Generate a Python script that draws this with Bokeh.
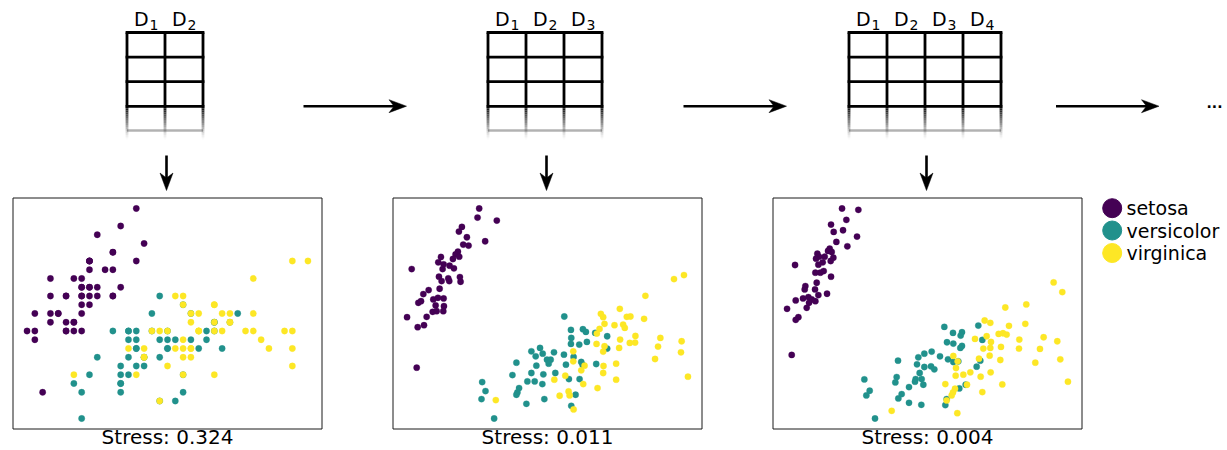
import numpy as np
from bokeh.plotting import figure
from bokeh.models import Range1d, ColumnDataSource
from bokeh.core.properties import value
from bokeh.embed import file_html
from bokeh.resources import INLINE

# ---------------- data ----------------
species = ["setosa", "versicolor", "virginica"]
colors = ["#440154", "#21918c", "#fde725"]
stress_values = ["0.324", "0.011", "0.004"]
n_dims = [2, 3, 4]
dim_prefix = "D"

# Panel 1: the two raw dimensions D1 (sepal length), D2 (sepal width)
p1_setosa_x = [5.1,4.9,4.7,4.6,5.0,5.4,4.6,5.0,4.4,4.9,5.4,4.8,4.8,4.3,5.8,5.7,5.4,5.1,5.7,5.1,5.4,5.1,4.6,5.1,4.8,5.0,5.0,5.2,5.2,4.7,4.8,5.4,5.2,5.5,4.9,5.0,5.5,4.9,4.4,5.1,5.0,4.5,4.4,5.0,5.1,4.8,5.1,4.6,5.3,5.0]
p1_setosa_y = [3.5,3.0,3.2,3.1,3.6,3.9,3.4,3.4,2.9,3.1,3.7,3.4,3.0,3.0,4.0,4.4,3.9,3.5,3.8,3.8,3.4,3.7,3.6,3.3,3.4,3.0,3.4,3.5,3.4,3.2,3.1,3.4,4.1,4.2,3.1,3.2,3.5,3.6,3.0,3.4,3.5,2.3,3.2,3.5,3.8,3.0,3.8,3.2,3.7,3.3]
p1_versicolor_x = [7.0,6.4,6.9,5.5,6.5,5.7,6.3,4.9,6.6,5.2,5.0,5.9,6.0,6.1,5.6,6.7,5.6,5.8,6.2,5.6,5.9,6.1,6.3,6.1,6.4,6.6,6.8,6.7,6.0,5.7,5.5,5.5,5.8,6.0,5.4,6.0,6.7,6.3,5.6,5.5,5.5,6.1,5.8,5.0,5.6,5.7,5.7,6.2,5.1,5.7]
p1_versicolor_y = [3.2,3.2,3.1,2.3,2.8,2.8,3.3,2.4,2.9,2.7,2.0,3.0,2.2,2.9,2.9,3.1,3.0,2.7,2.2,2.5,3.2,2.8,2.5,2.8,2.9,3.0,2.8,3.0,2.9,2.6,2.4,2.4,2.7,2.7,3.0,3.4,3.1,2.3,3.0,2.5,2.6,3.0,2.6,2.3,2.7,3.0,2.9,2.9,2.5,2.8]
p1_virginica_x = [6.3,5.8,7.1,6.3,6.5,7.6,4.9,7.3,6.7,7.2,6.5,6.4,6.8,5.7,5.8,6.4,6.5,7.7,7.7,6.0,6.9,5.6,7.7,6.3,6.7,7.2,6.2,6.1,6.4,7.2,7.4,7.9,6.4,6.3,6.1,7.7,6.3,6.4,6.0,6.9,6.7,6.9,5.8,6.8,6.7,6.7,6.3,6.5,6.2,5.9]
p1_virginica_y = [3.3,2.7,3.0,2.9,3.0,3.0,2.5,2.9,2.5,3.6,3.2,2.7,3.0,2.5,2.8,3.2,3.0,3.8,2.6,2.2,3.2,2.8,2.8,2.7,3.3,3.2,2.8,3.0,2.8,3.0,2.8,3.8,2.8,2.8,2.6,3.0,3.4,3.1,3.0,3.1,3.1,3.1,2.7,3.2,3.3,3.0,2.5,3.0,3.4,3.0]

# Panel 2: MDS embedding of D1..D3
p2_setosa_x = [29.3,28.8,34.6,24.1,23.2,25.6,31.1,24.5,26.1,22.9,22.2,17.8,21.4,23.3,17.0,18.6,20.4,18.3,21.7,9.0,17.2,20.0,23.5,18.0,20.3,23.7,14.1,17.4,12.5,15.5,18.6,16.9,11.0,11.8,16.2,18.7,15.3,16.5,18.5,7.6,13.5,10.8,12.7,10.5]
p2_setosa_y = [67.7,65.0,64.1,62.2,60.8,59.1,57.9,56.9,56.6,54.8,54.0,53.2,52.6,53.3,51.6,51.0,50.6,49.6,49.8,49.6,47.3,46.8,47.2,46.0,46.0,45.8,43.3,43.7,42.1,40.5,40.8,41.0,39.5,40.0,38.7,38.5,36.8,37.0,37.0,35.2,35.3,32.2,32.8,20.1]
p2_versicolor_x = [54.9,56.9,60.5,61.4,57.0,64.2,67.8,61.7,59.4,56.9,67.8,45.0,47.6,46.3,48.4,51.8,49.7,50.8,54.8,50.2,57.7,40.5,46.5,55.4,60.0,60.4,64.5,45.0,48.6,39.3,52.2,56.3,59.5,43.8,46.0,48.3,30.2,41.3,31.2,40.8,40.5,58.3,30.0,48.9,43.5,57.0,33.8]
p2_versicolor_y = [35.4,31.4,31.6,30.8,29.0,30.5,29.5,27.8,27.0,27.2,25.8,25.0,26.0,23.5,24.3,24.7,22.5,22.5,24.0,21.3,23.3,21.6,20.7,21.0,21.8,21.0,21.2,18.5,18.1,17.9,18.5,16.7,16.7,16.0,16.0,15.2,15.8,14.0,13.1,12.7,12.0,12.0,10.7,10.7,9.3,8.7,4.9]
p2_virginica_x = [87.9,90.9,79.3,71.6,65.9,66.6,73.7,74.8,78.9,67.0,70.0,72.6,73.1,65.5,64.7,76.3,83.8,90.2,71.7,74.6,64.6,67.0,66.6,71.4,76.2,83.1,90.0,82.2,57.6,57.6,61.0,70.5,66.7,60.0,66.6,55.2,51.9,70.5,60.6,64.9,92.1,53.5,56.2,56.5,34.3,57.7]
p2_virginica_y = [46.6,47.8,41.6,37.7,36.2,35.2,35.3,35.4,34.7,33.2,32.8,33.0,32.0,31.7,30.3,29.6,29.0,28.0,28.5,27.5,27.2,26.5,24.9,26.0,27.6,26.4,24.7,22.7,25.0,22.0,20.7,21.3,20.6,19.3,18.5,17.7,16.5,16.5,15.2,14.0,17.4,11.7,13.0,11.8,10.4,7.6]

# Panel 3: MDS embedding of D1..D4
p3_setosa_x = [24.1,29.0,25.4,20.8,24.4,21.6,28.6,22.4,25.7,20.4,19.9,21.0,16.7,17.2,18.9,21.5,16.3,20.7,18.3,10.0,17.0,18.6,17.6,16.1,20.8,16.5,13.1,12.9,16.0,19.6,17.0,14.0,12.4,15.0,10.2,16.1,14.2,13.5,7.6,11.0,10.2,9.0]
p3_setosa_y = [67.7,67.3,64.3,62.9,61.2,60.7,59.3,57.7,56.4,55.7,55.0,54.7,54.2,53.3,53.3,53.0,52.7,52.0,51.6,50.8,50.9,49.0,48.5,48.5,47.3,45.5,44.5,43.5,43.5,42.2,41.8,41.2,40.8,40.5,40.2,40.0,39.5,38.0,37.7,35.2,34.4,23.9]
p3_versicolor_x = [54.8,65.0,57.4,60.1,59.7,66.2,55.6,57.5,60.1,59.6,47.0,48.8,51.0,53.5,55.9,57.5,40.9,46.6,48.8,50.8,51.8,64.5,65.6,47.4,46.2,48.0,40.5,40.1,30.8,44.2,48.5,32.4,31.4,42.0,41.0,61.2,59.3,55.5,44.2,47.9,55.1,34.0,46.0,59.0]
p3_versicolor_y = [32.3,32.7,30.5,30.7,29.7,28.4,27.7,27.3,26.6,26.0,23.2,24.3,24.9,23.5,22.6,21.8,22.2,21.1,20.3,20.5,19.6,20.4,22.2,18.5,16.7,16.7,17.3,15.7,16.6,14.3,15.0,13.2,11.8,12.2,10.9,15.0,13.9,10.7,9.6,9.0,8.9,4.9,15.9,22.0]
p3_virginica_x = [87.6,90.2,73.1,79.4,66.9,68.6,74.2,79.1,67.5,64.0,71.1,73.5,72.4,77.3,84.6,88.7,68.8,71.8,68.6,66.5,77.2,83.5,57.5,65.2,68.4,71.6,58.8,89.6,82.1,68.7,58.3,58.2,62.6,60.5,65.7,55.1,61.6,72.2,91.9,58.0,57.4,66.2,57.0,55.5,39.0,58.7]
p3_virginica_y = [45.6,42.7,38.1,39.0,34.2,33.5,32.6,33.2,29.5,28.7,30.2,30.0,30.4,28.5,29.2,28.0,27.8,26.3,26.0,25.8,25.8,25.7,23.6,22.8,23.7,22.4,22.0,22.6,21.6,18.7,20.0,17.7,18.7,18.0,17.4,15.2,15.0,15.1,15.9,13.8,12.7,12.8,11.8,10.3,7.2,6.5]

panels = [
    [(p1_setosa_x, p1_setosa_y), (p1_versicolor_x, p1_versicolor_y), (p1_virginica_x, p1_virginica_y)],
    [(p2_setosa_x, p2_setosa_y), (p2_versicolor_x, p2_versicolor_y), (p2_virginica_x, p2_virginica_y)],
    [(p3_setosa_x, p3_setosa_y), (p3_versicolor_x, p3_versicolor_y), (p3_virginica_x, p3_virginica_y)],
]

# ---------------- layout (pixel canvas) ----------------
W, H = 1227, 450
FONT = value("DejaVu Sans")
BASE_SHIFT = 0.38  # renderer places alphabetic baseline ~0.38em lower

p = figure(width=W, height=H, x_range=Range1d(0, W), y_range=Range1d(H, 0),
           output_backend="svg", toolbar_location=None, min_border=0,
           x_axis_location=None, y_axis_location=None)
p.grid.visible = False
p.outline_line_color = None
p.background_fill_color = "white"
p.border_fill_color = "white"

box_left = [12.5, 392.5, 772.5]
box_w = 309.0
box_top, box_bot = 197.5, 428.5
box_cx = [b + box_w / 2 for b in box_left]

# ---- tables with column headers ----
col_w, row_h, t_top = 38.0, 24.6, 32.0
fade_end, fade_line = 139.0, 130.0
for k, nd in enumerate(n_dims):
    cx = box_cx[k] - 2.5
    left = cx - nd * col_w / 2
    right = left + nd * col_w
    xs = [left + i * col_w for i in range(nd + 1)]
    hy = [t_top + j * row_h for j in range(4)]
    p.segment(x0=[left] * 4, x1=[right] * 4, y0=hy, y1=hy,
              line_width=2.8, line_color="black", line_cap="square")
    p.segment(x0=xs, x1=xs, y0=[t_top] * len(xs), y1=[hy[-1]] * len(xs),
              line_width=2.8, line_color="black")
    # fading continuation
    nseg = 16
    step = (fade_end - hy[-1]) / nseg
    fx, fy0, fy1, fa = [], [], [], []
    for x in xs:
        for s in range(nseg):
            fx.append(x)
            fy0.append(hy[-1] + s * step)
            fy1.append(hy[-1] + (s + 1) * step)
            fa.append(max(0.0, 1.0 - (s + 0.5) / nseg) ** 1.2)
    src = ColumnDataSource(dict(x=fx, y0=fy0, y1=fy1, a=fa))
    p.segment(x0="x", x1="x", y0="y0", y1="y1", line_alpha="a",
              line_width=2.8, line_color="black", source=src)
    p.segment(x0=[left], x1=[right], y0=[fade_line], y1=[fade_line],
              line_width=2.6, line_color="black", line_alpha=0.3)
    # headers D1..Dn
    centers = [left + (i + 0.5) * col_w for i in range(nd)]
    p.text(x=[c - 12 for c in centers], y=[26.0 - BASE_SHIFT * 19] * nd, text=[dim_prefix] * nd,
           text_font=FONT, text_font_size="19px", text_align="left",
           text_baseline="alphabetic", text_color="black")
    p.text(x=[c + 3.5 for c in centers], y=[29.5 - BASE_SHIFT * 14] * nd,
           text=[str(i + 1) for i in range(nd)],
           text_font=FONT, text_font_size="14px", text_align="left",
           text_baseline="alphabetic", text_color="black")

# ---- arrows ----
def h_arrow(x0, x1, y):
    p.segment(x0=[x0], x1=[x1 - 12], y0=[y], y1=[y], line_width=2.6, line_color="black")
    p.patches(xs=[[x1, x1 - 17.5, x1 - 12.5, x1 - 17.5]],
              ys=[[y, y - 6.5, y, y + 6.5]], fill_color="black", line_color="black", line_width=0.5)

def v_arrow(x, y0, y1):
    p.segment(x0=[x], x1=[x], y0=[y0], y1=[y1 - 12], line_width=2.6, line_color="black")
    p.patches(xs=[[x, x - 6.5, x, x + 6.5]],
              ys=[[y1, y1 - 17.5, y1 - 12.5, y1 - 17.5]], fill_color="black", line_color="black", line_width=0.5)

arrow_y = 105.7
for c in [354.5, 734.5, 1107.0]:
    h_arrow(c - 51.5, c + 51.5, arrow_y)
for c in box_cx:
    v_arrow(c - 1, 155.0, 190.0)

p.text(x=[1206.0], y=[107.5 - BASE_SHIFT * 14], text=["..."], text_font=FONT, text_font_size="14px",
       text_font_style="bold", text_align="left", text_baseline="alphabetic", text_color="black")

# ---- scatter panels ----
x_ranges, y_ranges = {}, {}
for k, groups in enumerate(panels):
    allx = np.concatenate([np.asarray(g[0], float) for g in groups])
    ally = np.concatenate([np.asarray(g[1], float) for g in groups])
    xpad = 0.05 * (allx.max() - allx.min())
    ypad = 0.05 * (ally.max() - ally.min())
    dx0, dx1 = allx.min() - xpad, allx.max() + xpad
    dy0, dy1 = ally.min() - ypad, ally.max() + ypad
    bx0, bx1 = box_left[k], box_left[k] + box_w
    sx = (dx1 - dx0) / (bx1 - bx0)
    sy = (dy1 - dy0) / (box_bot - box_top)
    x_ranges[f"px{k}"] = Range1d(start=dx0 - bx0 * sx, end=dx0 + (W - bx0) * sx)
    y_ranges[f"py{k}"] = Range1d(start=dy0 + (box_bot - H) * sy, end=dy0 + box_bot * sy)
p.extra_x_ranges = x_ranges
p.extra_y_ranges = y_ranges

for k, groups in enumerate(panels):
    p.quad(left=[box_left[k]], right=[box_left[k] + box_w], top=[box_top], bottom=[box_bot],
           fill_color=None, line_color="#1a1a1a", line_width=1)
    for (gx, gy), col in zip(groups, colors):
        p.scatter(x=gx, y=gy, size=6.3, fill_color=col, line_color=col, line_width=0.3,
                  x_range_name=f"px{k}", y_range_name=f"py{k}")
    p.text(x=[box_cx[k]], y=[444.5 - BASE_SHIFT * 20], text=[f"Stress: {stress_values[k]}"],
           text_font=FONT, text_font_size="20px", text_align="center",
           text_baseline="alphabetic", text_color="black")

# ---- legend ----
leg_y = [207.7, 230.0, 252.5]
p.scatter(x=[1111.7] * 3, y=leg_y, size=19, fill_color=colors, line_color=colors)
p.text(x=[1126.0] * 3, y=leg_y, text=species, text_font=FONT, text_font_size="19px",
       text_align="left", text_baseline="middle", text_color="black")

open("out.html", "w").write(file_html(p, INLINE))
